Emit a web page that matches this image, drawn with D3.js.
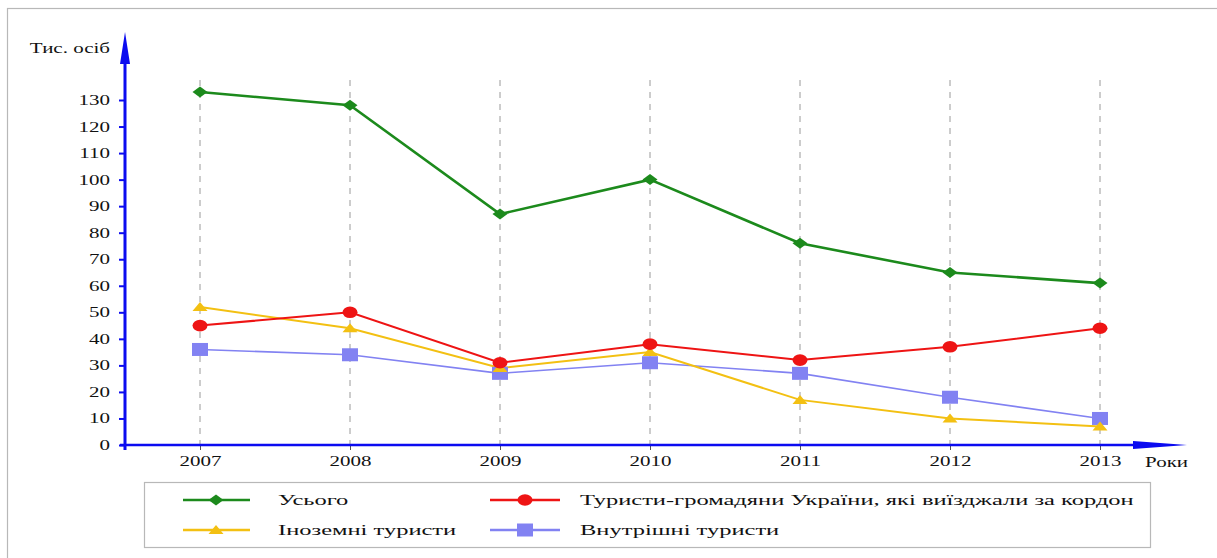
<!DOCTYPE html>
<html><head><meta charset="utf-8">
<script src="https://cdn.jsdelivr.net/npm/d3@7"></script>
<style>
body{margin:0;background:#fff}
svg text{font-family:"Liberation Serif","Times New Roman","DejaVu Serif",serif !important;fill:#111}
</style>
</head><body>
<svg id="c" width="1217" height="558"></svg>
<script>
const years = ["2007","2008","2009","2010","2011","2012","2013"];
const total = [133,128,87,100,76,65,61];
const abroad = [45,50,31,38,32,37,44];
const foreign = [52,44,29,35,17,10,7];
const domestic = [36,34,27,31,27,18,10];
const yTicks = [0,10,20,30,40,50,60,70,80,90,100,110,120,130];
const seriesNames = ["Усього","Туристи-громадяни України, які виїзджали за кордон","Іноземні туристи","Внутрішні туристи"];
const yTitle = "Тис. осіб";
const xTitle = "Роки";

const SX = 1.5;
const FONT = "'Liberation Serif','Times New Roman','DejaVu Serif',serif";
const svg = d3.select("#c");
const axisBlue = "#0b0bf0";

svg.append("rect").attr("x",7.5).attr("y",8.5).attr("width",1400).attr("height",700)
  .attr("fill","none").attr("stroke","#b8b8b8").attr("stroke-width",1.2);

const x = d3.scalePoint().domain(years).range([200,1100]);
const y = d3.scaleLinear().domain([0,130]).range([445,100]);

svg.append("g").selectAll("line").data(years).join("line")
  .attr("x1",d=>x(d)).attr("x2",d=>x(d)).attr("y1",80).attr("y2",445)
  .attr("stroke","#9a9a9a").attr("stroke-width",1).attr("stroke-dasharray","6,6");

const gy = svg.append("g").attr("transform","translate(125,0)")
  .call(d3.axisLeft(y).tickValues(yTicks).tickSize(6).tickFormat(d3.format("d")));
gy.attr("font-family",null);
gy.select(".domain").remove();
gy.selectAll(".tick line").attr("stroke",axisBlue).attr("stroke-width",2);
gy.selectAll(".tick text").attr("x",-15/SX).attr("transform",`scale(${SX},1)`)
  .style("font-family",FONT).style("font-size","14px").attr("fill","#111");
svg.append("line").attr("x1",125).attr("x2",125).attr("y1",450).attr("y2",60)
  .attr("stroke",axisBlue).attr("stroke-width",3);
svg.append("path").attr("d","M125,32L130,64L120,64Z").attr("fill",axisBlue);

const gx = svg.append("g").attr("transform","translate(0,445)")
  .call(d3.axisBottom(x).tickSize(5));
gx.attr("font-family",null);
gx.select(".domain").remove();
gx.selectAll(".tick line").attr("stroke","#555").attr("stroke-width",1);
gx.selectAll(".tick text").attr("y",11).attr("x",0).attr("transform",`scale(${SX},1)`)
  .style("font-family",FONT).style("font-size","14px").attr("fill","#111");
svg.append("line").attr("x1",120).attr("x2",1140).attr("y1",445).attr("y2",445)
  .attr("stroke",axisBlue).attr("stroke-width",2.5);
svg.append("path").attr("d","M1133,441L1187,445L1133,449Z").attr("fill",axisBlue);

function stext(xp, yp, str, anchor, size, sx){
  svg.append("g").attr("transform",`translate(${xp},${yp})`)
    .append("text").attr("transform",`scale(${sx||SX},1)`).attr("text-anchor",anchor)
    .style("font-family",FONT).style("font-size",size+"px").text(str);
}
stext(110,53,yTitle,"end",14);
stext(1145,467,xTitle,"start",14);

const markers = {
  diamond: "M-7.5,0L0,-5.5L7.5,0L0,5.5Z",
  circle: "M-7.5,0A7.5,5.8 0 1,0 7.5,0A7.5,5.8 0 1,0 -7.5,0Z",
  triangle: "M-7.5,4L0,-5L7.5,4Z",
  square: "M-8,-6.5h16v13h-16Z"
};
const series = [
  {name:seriesNames[0], values:total, color:"#1c8a1c", width:2.6, marker:"diamond"},
  {name:seriesNames[1], values:abroad, color:"#ee1414", width:2, marker:"circle"},
  {name:seriesNames[2], values:foreign, color:"#f3c012", width:2, marker:"triangle"},
  {name:seriesNames[3], values:domestic, color:"#8282f2", width:1.6, marker:"square"}
];
const line = d3.line().x((d,i)=>x(years[i])).y(d=>y(d));
const drawOrder = [3,2,1,0];
drawOrder.forEach(k=>{
  const s = series[k];
  svg.append("path").attr("d",line(s.values)).attr("fill","none")
    .attr("stroke",s.color).attr("stroke-width",s.width);
});
drawOrder.forEach(k=>{
  const s = series[k];
  svg.append("g").selectAll("path").data(s.values).join("path")
    .attr("d",markers[s.marker]).attr("fill",s.color)
    .attr("transform",(d,i)=>`translate(${x(years[i])},${y(d)})`);
});

svg.append("rect").attr("x",144.5).attr("y",482.5).attr("width",1006).attr("height",65)
  .attr("fill","none").attr("stroke","#b8b8b8").attr("stroke-width",1.2);
const legPos = [
  {lx1:183,lx2:250,mx:216,tx:278,ty:500},
  {lx1:490,lx2:560,mx:525,tx:580,ty:500},
  {lx1:183,lx2:250,mx:216,tx:278,ty:530},
  {lx1:490,lx2:560,mx:525,tx:580,ty:530}
];
series.forEach((s,k)=>{
  const p = legPos[k];
  svg.append("line").attr("x1",p.lx1).attr("x2",p.lx2).attr("y1",p.ty).attr("y2",p.ty)
    .attr("stroke",s.color).attr("stroke-width",2.5);
  svg.append("path").attr("d",markers[s.marker]).attr("fill",s.color)
    .attr("transform",`translate(${p.mx},${p.ty})`);
  stext(p.tx,p.ty+5,s.name,"start",15.5,1.58);
});
</script>
</body></html>
